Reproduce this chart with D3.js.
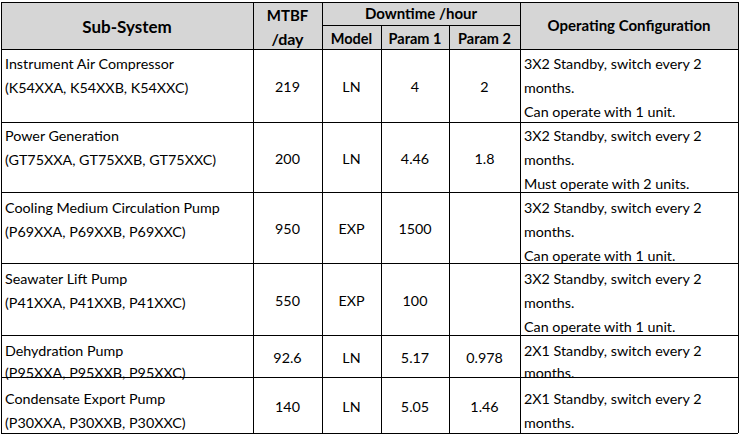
<!DOCTYPE html>
<html><head><meta charset="utf-8">
<script src="https://cdn.jsdelivr.net/npm/d3@7"></script>
<style>body{margin:0;background:#fff}text{font-family:Lato,"Open Sans",sans-serif}</style>
</head><body><svg id="t"></svg>
<script>
// table contents
var subSystems = ["Instrument Air Compressor", "Power Generation", "Cooling Medium Circulation Pump",
                  "Seawater Lift Pump", "Dehydration Pump", "Condensate Export Pump"];
var tags = ["(K54XXA, K54XXB, K54XXC)", "(GT75XXA, GT75XXB, GT75XXC)", "(P69XXA, P69XXB, P69XXC)",
            "(P41XXA, P41XXB, P41XXC)", "(P95XXA, P95XXB, P95XXC)", "(P30XXA, P30XXB, P30XXC)"];
var mtbf = ["219", "200", "950", "550", "92.6", "140"];
var model = ["LN", "LN", "EXP", "EXP", "LN", "LN"];
var param1 = ["4", "4.46", "1500", "100", "5.17", "5.05"];
var param2 = ["2", "1.8", "", "", "0.978", "1.46"];
var config = [
  ["3X2 Standby, switch every 2", "months.", "Can operate with 1 unit."],
  ["3X2 Standby, switch every 2", "months.", "Must operate with 2 units."],
  ["3X2 Standby, switch every 2", "months.", "Can operate with 1 unit."],
  ["3X2 Standby, switch every 2", "months.", "Can operate with 1 unit."],
  ["2X1 Standby, switch every 2", "months."],
  ["2X1 Standby, switch every 2", "months."]
];

var W = 740, H = 435;
var colX = [1, 253, 322, 381, 449, 520, 738];
var rowY = [2, 49, 122, 192, 263, 335, 377, 433];
var firstLine = [14, 13, 15, 15, 15, 21];
var headMid = 25, lh = 24;

var svg = d3.select("#t").attr("width", W).attr("height", H);

// header background
svg.append("rect").attr("x", colX[0]).attr("y", rowY[0])
   .attr("width", colX[6] - colX[0]).attr("height", rowY[1] - rowY[0]).attr("fill", "#d6d6d6");

var lines = [];
rowY.forEach(function (y) { lines.push([colX[0], y, colX[6], y]); });
lines.push([colX[2], headMid, colX[5], headMid]);
colX.forEach(function (x, i) {
  var top = (i == 3 || i == 4) ? headMid : rowY[0];
  lines.push([x, top, x, rowY[7]]);
});
svg.selectAll(".ln").data(lines).enter().append("line")
   .attr("x1", d => d[0]).attr("y1", d => d[1]).attr("x2", d => d[2]).attr("y2", d => d[3])
   .attr("stroke", "#000").attr("stroke-width", 1).attr("shape-rendering", "crispEdges");

function txt(x, y, s, anchor, bold, size) {
  svg.append("text").attr("x", x).attr("y", y).attr("text-anchor", anchor || "start")
     .attr("font-weight", bold ? "bold" : "normal").attr("font-size", size || 14.3)
     .attr("dominant-baseline", "central").attr("fill", "#000").text(s);
}
function cx(i) { return (colX[i] + colX[i + 1]) / 2; }

// header
txt(cx(0), 26, "Sub-System", "middle", true, 17);
txt(cx(1), 15, "MTBF", "middle", true, 15);
txt(cx(1), 38, "/day", "middle", true, 16);
txt((colX[2] + colX[5]) / 2, 13, "Downtime /hour", "middle", true, 15);
txt(cx(2), 38, "Model", "middle", true, 14.5);
txt(cx(3), 38, "Param 1", "middle", true, 14.5);
txt(cx(4), 38, "Param 2", "middle", true, 14.5);
txt(cx(5), 25, "Operating Configuration", "middle", true, 15);

// body
subSystems.forEach(function (s, r) {
  var top = rowY[r + 1] + firstLine[r], mid = (rowY[r + 1] + rowY[r + 2]) / 2;
  var step = r == 4 ? 22 : lh;
  txt(colX[0] + 4, top, s);
  txt(colX[0] + 4, top + step, tags[r]);
  txt(cx(1), mid + 1, mtbf[r], "middle");
  txt(cx(2), mid + 1, model[r], "middle");
  txt(cx(3), mid + 1, param1[r], "middle");
  txt(cx(4), mid + 1, param2[r], "middle");
  config[r].forEach(function (c, k) { txt(colX[5] + 4, top + k * step, c); });
});
</script></body></html>
